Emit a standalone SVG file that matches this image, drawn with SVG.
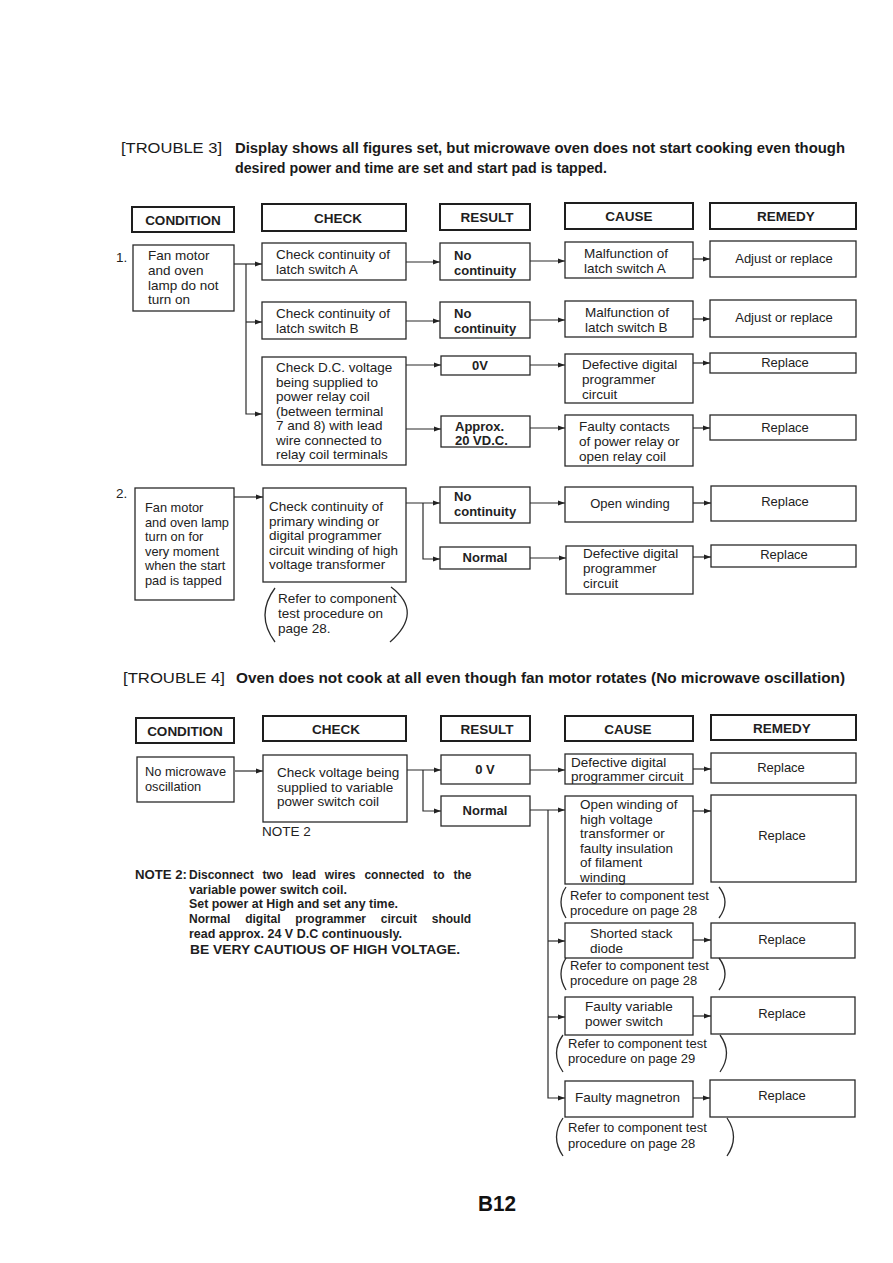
<svg xmlns="http://www.w3.org/2000/svg" width="893" height="1263" viewBox="0 0 893 1263">
<defs>
<marker id="ar" markerUnits="userSpaceOnUse" markerWidth="8" markerHeight="6" refX="7" refY="3" orient="auto">
<path d="M0,0.6 L7,3 L0,5.4 Z" fill="#222"/>
</marker>
<style>
.bx{fill:#fff;stroke:#2a2a2a;stroke-width:1.3}
.hd{fill:#fff;stroke:#1e1e1e;stroke-width:2}
.t{font-family:"Liberation Sans",Arial,sans-serif;font-size:13.5px;fill:#222}
.s{font-size:13px}
.sm{font-size:12.8px}
.b{font-weight:bold}
.m{text-anchor:middle}
.h{font-family:"Liberation Sans",Arial,sans-serif;font-size:13.5px;font-weight:bold;fill:#1e1e1e;text-anchor:middle}
.ti{font-family:"Liberation Sans",Arial,sans-serif;font-size:14.5px;fill:#1a1a1a}
.n{font-family:"Liberation Sans",Arial,sans-serif;font-size:12px;font-weight:bold;fill:#1e1e1e}
.c{fill:none;stroke:#2a2a2a;stroke-width:1.2}
.p{fill:none;stroke:#2a2a2a;stroke-width:1.3}
</style>
</defs>
<rect width="893" height="1263" fill="#fff"/>

<g id="title3">
<text class="ti" x="121" y="153" textLength="101" lengthAdjust="spacingAndGlyphs">[TROUBLE 3]</text>
<text class="ti b" x="235" y="153" textLength="610" lengthAdjust="spacingAndGlyphs">Display shows all figures set, but microwave oven does not start cooking even though</text>
<text class="ti b" x="235" y="173" textLength="372" lengthAdjust="spacingAndGlyphs">desired power and time are set and start pad is tapped.</text>
</g>

<g id="headers3">
<rect class="hd" x="132" y="207" width="102" height="25"/><text class="h" x="183" y="225">CONDITION</text>
<rect class="hd" x="262" y="204" width="144" height="27"/><text class="h" x="338" y="223">CHECK</text>
<rect class="hd" x="440" y="204" width="90" height="26"/><text class="h" x="487" y="222">RESULT</text>
<rect class="hd" x="565" y="203" width="128" height="26"/><text class="h" x="629" y="221">CAUSE</text>
<rect class="hd" x="710" y="203" width="146" height="26"/><text class="h" x="786" y="221">REMEDY</text>
</g>

<g id="connectors">
<path class="c" d="M234,264 H262" marker-end="url(#ar)"/>
<path class="c" d="M246,264 V414 H262" marker-end="url(#ar)"/>
<path class="c" d="M246,322 H262" marker-end="url(#ar)"/>
<path class="c" d="M406,262 H440" marker-end="url(#ar)"/>
<path class="c" d="M530,261 H565" marker-end="url(#ar)"/>
<path class="c" d="M693,259 H710" marker-end="url(#ar)"/>
<path class="c" d="M406,321 H440" marker-end="url(#ar)"/>
<path class="c" d="M530,320 H565" marker-end="url(#ar)"/>
<path class="c" d="M693,319 H710" marker-end="url(#ar)"/>
<path class="c" d="M406,365 H441" marker-end="url(#ar)"/>
<path class="c" d="M530,365 H565" marker-end="url(#ar)"/>
<path class="c" d="M693,363 H710" marker-end="url(#ar)"/>
<path class="c" d="M406,429 H441" marker-end="url(#ar)"/>
<path class="c" d="M530,428 H565" marker-end="url(#ar)"/>
<path class="c" d="M693,428 H710" marker-end="url(#ar)"/>
<path class="c" d="M234,497 H263" marker-end="url(#ar)"/>
<path class="c" d="M406,503 H440" marker-end="url(#ar)"/>
<path class="c" d="M423,503 V559 H440" marker-end="url(#ar)"/>
<path class="c" d="M530,503 H565" marker-end="url(#ar)"/>
<path class="c" d="M693,503 H711" marker-end="url(#ar)"/>
<path class="c" d="M530,558 H566" marker-end="url(#ar)"/>
<path class="c" d="M693,557 H711" marker-end="url(#ar)"/>
<path class="c" d="M235,771 H263" marker-end="url(#ar)"/>
<path class="c" d="M407,770 H441" marker-end="url(#ar)"/>
<path class="c" d="M423,770 V811 H441" marker-end="url(#ar)"/>
<path class="c" d="M530,770 H565" marker-end="url(#ar)"/>
<path class="c" d="M693,769 H711" marker-end="url(#ar)"/>
<path class="c" d="M530,810 H565" marker-end="url(#ar)"/>
<path class="c" d="M548,810 V1098 H565" marker-end="url(#ar)"/>
<path class="c" d="M548,941 H565" marker-end="url(#ar)"/>
<path class="c" d="M548,1017 H565" marker-end="url(#ar)"/>
<path class="c" d="M693,811 H711" marker-end="url(#ar)"/>
<path class="c" d="M693,940 H711" marker-end="url(#ar)"/>
<path class="c" d="M693,1016 H711" marker-end="url(#ar)"/>
<path class="c" d="M693,1098 H710" marker-end="url(#ar)"/>
</g>

<text class="t" x="116" y="262">1.</text>
<g id="cond1">
<rect class="bx" x="133" y="245" width="101" height="66"/>
<text class="t" x="148" y="260">Fan motor</text>
<text class="t" x="148" y="275">and oven</text>
<text class="t" x="148" y="290">lamp do not</text>
<text class="t" x="148" y="304">turn on</text>
</g>
<g id="checkA">
<rect class="bx" x="262" y="243" width="144" height="37"/>
<text class="t" x="276" y="259">Check continuity of</text>
<text class="t" x="276" y="274">latch switch A</text>
</g>
<g id="checkB">
<rect class="bx" x="262" y="302" width="144" height="37"/>
<text class="t" x="276" y="318">Check continuity of</text>
<text class="t" x="276" y="333">latch switch B</text>
</g>
<g id="checkDC">
<rect class="bx" x="262" y="357" width="144" height="108"/>
<text class="t" x="276" y="372">Check D.C. voltage</text>
<text class="t" x="276" y="386.5">being supplied to</text>
<text class="t" x="276" y="401">power relay coil</text>
<text class="t" x="276" y="415.5">(between terminal</text>
<text class="t" x="276" y="430">7 and 8) with lead</text>
<text class="t" x="276" y="444.5">wire connected to</text>
<text class="t" x="276" y="459">relay coil terminals</text>
</g>
<g id="resA">
<rect class="bx" x="440" y="243" width="90" height="37"/>
<text class="t s b" x="454" y="260">No</text>
<text class="t s b" x="454" y="275">continuity</text>
</g>
<g id="resB">
<rect class="bx" x="440" y="302" width="90" height="36"/>
<text class="t s b" x="454" y="318">No</text>
<text class="t s b" x="454" y="333">continuity</text>
</g>
<g id="res0V">
<rect class="bx" x="441" y="356" width="89" height="19"/>
<text class="t s b m" x="480" y="370">0V</text>
</g>
<g id="resApprox">
<rect class="bx" x="441" y="416" width="89" height="31"/>
<text class="t s b" x="455" y="431">Approx.</text>
<text class="t s b" x="455" y="445">20 VD.C.</text>
</g>
<g id="causeA">
<rect class="bx" x="565" y="242" width="128" height="36"/>
<text class="t" x="584" y="258">Malfunction of</text>
<text class="t" x="584" y="273">latch switch A</text>
</g>
<g id="causeB">
<rect class="bx" x="565" y="301" width="128" height="36"/>
<text class="t" x="585" y="317">Malfunction of</text>
<text class="t" x="585" y="332">latch switch B</text>
</g>
<g id="causeDC">
<rect class="bx" x="565" y="354" width="128" height="49"/>
<text class="t" x="582" y="369">Defective digital</text>
<text class="t" x="582" y="384">programmer</text>
<text class="t" x="582" y="399">circuit</text>
</g>
<g id="causeRelay">
<rect class="bx" x="565" y="415" width="128" height="51"/>
<text class="t" x="579" y="431">Faulty contacts</text>
<text class="t" x="579" y="446">of power relay or</text>
<text class="t" x="579" y="461">open relay coil</text>
</g>
<g id="remA">
<rect class="bx" x="710" y="241" width="146" height="36"/>
<text class="t s m" x="784" y="263">Adjust or replace</text>
</g>
<g id="remB">
<rect class="bx" x="710" y="300" width="146" height="37"/>
<text class="t s m" x="784" y="322">Adjust or replace</text>
</g>
<g id="remDC">
<rect class="bx" x="710" y="353" width="146" height="20"/>
<text class="t s m" x="785" y="367">Replace</text>
</g>
<g id="remRelay">
<rect class="bx" x="710" y="415" width="146" height="25"/>
<text class="t s m" x="785" y="432">Replace</text>
</g>

<text class="t" x="116" y="498">2.</text>
<g id="cond2">
<rect class="bx" x="135" y="488" width="99" height="112"/>
<text class="t sm" x="145" y="512">Fan motor</text>
<text class="t sm" x="145" y="526.5">and oven lamp</text>
<text class="t sm" x="145" y="541">turn on for</text>
<text class="t sm" x="145" y="555.5">very moment</text>
<text class="t sm" x="145" y="570">when the start</text>
<text class="t sm" x="145" y="584.5">pad is tapped</text>
</g>
<g id="check2">
<rect class="bx" x="263" y="488" width="143" height="94"/>
<text class="t" x="269" y="511">Check continuity of</text>
<text class="t" x="269" y="525.5">primary winding or</text>
<text class="t" x="269" y="540">digital programmer</text>
<text class="t" x="269" y="554.5">circuit winding of high</text>
<text class="t" x="269" y="569">voltage transformer</text>
</g>
<g id="ref2">
<path class="p" d="M275,588 Q255,615 275,642"/>
<path class="p" d="M391,587 Q424,612 390,642"/>
<text class="t" x="278" y="603">Refer to component</text>
<text class="t" x="278" y="618">test procedure on</text>
<text class="t" x="278" y="633">page 28.</text>
</g>
<g id="res2a">
<rect class="bx" x="440" y="487" width="90" height="36"/>
<text class="t s b" x="454" y="501">No</text>
<text class="t s b" x="454" y="516">continuity</text>
</g>
<g id="res2b">
<rect class="bx" x="440" y="547" width="90" height="22"/>
<text class="t s b m" x="485" y="562">Normal</text>
</g>
<g id="cause2a">
<rect class="bx" x="565" y="487" width="128" height="35"/>
<text class="t s m" x="630" y="508">Open winding</text>
</g>
<g id="cause2b">
<rect class="bx" x="566" y="546" width="127" height="48"/>
<text class="t" x="583" y="558">Defective digital</text>
<text class="t" x="583" y="573">programmer</text>
<text class="t" x="583" y="588">circuit</text>
</g>
<g id="rem2a">
<rect class="bx" x="711" y="486" width="145" height="35"/>
<text class="t s m" x="785" y="506">Replace</text>
</g>
<g id="rem2b">
<rect class="bx" x="711" y="545" width="145" height="22"/>
<text class="t s m" x="784" y="559">Replace</text>
</g>

<g id="title4">
<text class="ti" x="123" y="683" textLength="102" lengthAdjust="spacingAndGlyphs">[TROUBLE 4]</text>
<text class="ti" x="236" y="683" textLength="609" lengthAdjust="spacingAndGlyphs" font-weight="600">Oven does not cook at all even though fan motor rotates (No microwave oscillation)</text>
</g>

<g id="headers4">
<rect class="hd" x="136" y="718" width="98" height="25"/><text class="h" x="185" y="736">CONDITION</text>
<rect class="hd" x="263" y="716" width="143" height="25"/><text class="h" x="336" y="734">CHECK</text>
<rect class="hd" x="441" y="716" width="89" height="25"/><text class="h" x="487" y="734">RESULT</text>
<rect class="hd" x="565" y="716" width="128" height="25"/><text class="h" x="628" y="734">CAUSE</text>
<rect class="hd" x="711" y="715" width="145" height="25"/><text class="h" x="782" y="733">REMEDY</text>
</g>

<g id="cond4">
<rect class="bx" x="137" y="757" width="97" height="45"/>
<text class="t sm" x="145" y="776">No microwave</text>
<text class="t sm" x="145" y="791">oscillation</text>
</g>
<g id="check4">
<rect class="bx" x="263" y="755" width="144" height="67"/>
<text class="t" x="277" y="777">Check voltage being</text>
<text class="t" x="277" y="791.5">supplied to variable</text>
<text class="t" x="277" y="806">power switch coil</text>
<text class="t" x="262" y="836">NOTE 2</text>
</g>
<g id="res4a">
<rect class="bx" x="441" y="755" width="89" height="29"/>
<text class="t s b m" x="485" y="774">0 V</text>
</g>
<g id="res4b">
<rect class="bx" x="441" y="796" width="89" height="30"/>
<text class="t s b m" x="485" y="815">Normal</text>
</g>
<g id="cause4a">
<rect class="bx" x="565" y="754" width="128" height="30"/>
<text class="t" x="571" y="767">Defective digital</text>
<text class="t" x="571" y="781">programmer circuit</text>
</g>
<g id="rem4a">
<rect class="bx" x="711" y="753" width="145" height="30"/>
<text class="t s m" x="781" y="772">Replace</text>
</g>
<g id="cause4b">
<rect class="bx" x="565" y="796" width="128" height="88"/>
<text class="t" x="580" y="809">Open winding of</text>
<text class="t" x="580" y="823.5">high voltage</text>
<text class="t" x="580" y="838">transformer or</text>
<text class="t" x="580" y="852.5">faulty insulation</text>
<text class="t" x="580" y="867">of filament</text>
<text class="t" x="580" y="881.5">winding</text>
</g>
<g id="rem4b">
<rect class="bx" x="711" y="795" width="145" height="87"/>
<text class="t s m" x="782" y="840">Replace</text>
</g>
<g id="ref4a">
<path class="p" d="M566,887 Q556,902 566,918"/>
<path class="p" d="M719,887 Q731,902 719,918"/>
<text class="t s" x="570" y="900">Refer to component test</text>
<text class="t s" x="570" y="915">procedure on  page 28</text>
</g>
<g id="cause4c">
<rect class="bx" x="565" y="923" width="128" height="35"/>
<text class="t" x="590" y="938">Shorted stack</text>
<text class="t" x="590" y="953">diode</text>
</g>
<g id="rem4c">
<rect class="bx" x="711" y="923" width="144" height="35"/>
<text class="t s m" x="782" y="944">Replace</text>
</g>
<g id="ref4b">
<path class="p" d="M566,958 Q556,974 566,990"/>
<path class="p" d="M719,958 Q731,974 719,990"/>
<text class="t s" x="570" y="970">Refer to component test</text>
<text class="t s" x="570" y="985">procedure on page 28</text>
</g>
<g id="cause4d">
<rect class="bx" x="565" y="997" width="128" height="38"/>
<text class="t" x="585" y="1011">Faulty variable</text>
<text class="t" x="585" y="1026">power switch</text>
</g>
<g id="rem4d">
<rect class="bx" x="711" y="997" width="144" height="37"/>
<text class="t s m" x="782" y="1018">Replace</text>
</g>
<g id="ref4c">
<path class="p" d="M563,1035 Q550,1053 563,1072"/>
<path class="p" d="M720,1035 Q733,1053 720,1072"/>
<text class="t s" x="568" y="1048">Refer to component test</text>
<text class="t s" x="568" y="1063">procedure on  page 29</text>
</g>
<g id="cause4e">
<rect class="bx" x="565" y="1081" width="128" height="36"/>
<text class="t" x="575" y="1102">Faulty magnetron</text>
</g>
<g id="rem4e">
<rect class="bx" x="710" y="1080" width="145" height="37"/>
<text class="t s m" x="782" y="1100">Replace</text>
</g>
<g id="ref4d">
<path class="p" d="M563,1118 Q550,1137 563,1156"/>
<path class="p" d="M727,1118 Q740,1137 727,1156"/>
<text class="t s" x="568" y="1132">Refer to  component test</text>
<text class="t s" x="568" y="1148">procedure on   page 28</text>
</g>

<g id="note2">
<text class="n" x="135" y="879" textLength="52" lengthAdjust="spacingAndGlyphs">NOTE 2:</text>
<text class="n" x="189" y="879" word-spacing="5.5">Disconnect two lead wires connected to the</text>
<text class="n" x="189" y="894" textLength="158" lengthAdjust="spacingAndGlyphs">variable power switch coil.</text>
<text class="n" x="189" y="908" textLength="209" lengthAdjust="spacingAndGlyphs">Set power at High and set any time.</text>
<text class="n" x="189" y="923" word-spacing="11.5">Normal digital programmer circuit should</text>
<text class="n" x="189" y="938" textLength="213" lengthAdjust="spacingAndGlyphs">read approx. 24 V D.C continuously.</text>
<text class="n" x="190" y="954" textLength="270" lengthAdjust="spacingAndGlyphs" font-weight="normal">BE VERY CAUTIOUS OF HIGH VOLTAGE.</text>
</g>

<text x="478" y="1211" font-family="Liberation Sans, Arial, sans-serif" font-size="22" font-weight="bold" fill="#111" textLength="38" lengthAdjust="spacingAndGlyphs">B12</text>
</svg>
